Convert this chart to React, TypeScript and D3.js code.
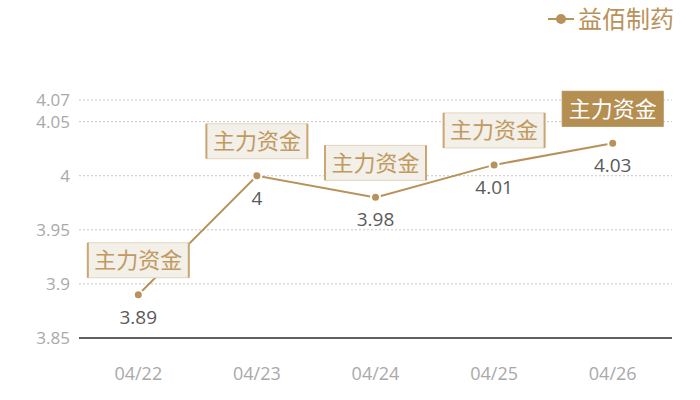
import * as d3 from 'd3';

const dates = ['04/22', '04/23', '04/24', '04/25', '04/26'];
const prices = [3.89, 4, 3.98, 4.01, 4.03];
const flowLabels = ['主力资金', '主力资金', '主力资金', '主力资金', '主力资金'];
const highlighted = [false, false, false, false, true];
const yTicks = [3.85, 3.9, 3.95, 4, 4.05, 4.07];
const seriesName = '益佰制药';

const W = 700;
const H = 400;
const margin = { top: 100, right: 28, bottom: 62, left: 79 };
const gold = '#b8925a';
const cjk = '"Noto Sans CJK SC", sans-serif';
const latin = '"Open Sans", "Noto Sans", sans-serif';

export default function App() {
  const x = d3
    .scaleBand()
    .domain(dates)
    .range([margin.left, W - margin.right]);
  const y = d3
    .scaleLinear()
    .domain([3.85, 4.07])
    .range([H - margin.bottom, margin.top]);
  const cx = (d: string) => (x(d) || 0) + x.bandwidth() / 2;

  const line = d3
    .line<number>()
    .x((_, i) => cx(dates[i]))
    .y(d => y(d));

  const boxW = 101;
  const boxH = 35;

  return (
    <svg
      width={W}
      height={H}
      style={{ position: 'absolute', left: 0, top: 0, background: '#fff' }}
      fontFamily={cjk}
    >
      {/* legend */}
      <g>
        <line x1={548} x2={574} y1={19} y2={19} stroke={gold} strokeWidth={2} />
        <circle cx={561} cy={19} r={5} fill={gold} />
        <text x={578} y={28} fontSize={24} fill={gold}>
          {seriesName}
        </text>
      </g>

      {/* grid + y ticks */}
      {yTicks.map(t => (
        <g key={t}>
          {t !== 3.85 && (
            <line
              x1={margin.left}
              x2={W - margin.right}
              y1={y(t)}
              y2={y(t)}
              stroke="#c8c8c8"
              strokeDasharray="2,2"
            />
          )}
          <text
            x={70}
            y={y(t)}
            dy="0.36em"
            textAnchor="end"
            fontSize={17}
            fontFamily={latin}
            fill="#a9a9a9"
          >
            {String(t)}
          </text>
        </g>
      ))}
      <line
        x1={margin.left}
        x2={W - margin.right}
        y1={y(3.85)}
        y2={y(3.85)}
        stroke="#2b2b2b"
        strokeWidth={1.3}
      />

      {/* x ticks */}
      {dates.map(d => (
        <text
          key={d}
          x={cx(d)}
          y={H - margin.bottom + 42}
          textAnchor="middle"
          fontSize={18}
          fontFamily={latin}
          fill="#a9a9a9"
        >
          {d}
        </text>
      ))}

      {/* series */}
      <path d={line(prices) || ''} fill="none" stroke={gold} strokeWidth={2} />
      {prices.map((v, i) => (
        <circle
          key={i}
          cx={cx(dates[i])}
          cy={y(v)}
          r={4.5}
          fill={gold}
          stroke="#fff"
          strokeWidth={2}
        />
      ))}
      {prices.map((v, i) => (
        <text
          key={i}
          x={cx(dates[i])}
          y={y(v) + 29}
          textAnchor="middle"
          fontSize={19}
          fontFamily={latin}
          fill="#5a5a5a"
        >
          {String(v)}
        </text>
      ))}

      {/* flow labels */}
      {flowLabels.map((lab, i) => {
        const px = cx(dates[i]);
        const bx = px - boxW / 2;
        const by = y(prices[i]) - 17 - boxH;
        const hi = highlighted[i];
        return (
          <g key={i}>
            <rect
              x={bx}
              y={by}
              width={boxW}
              height={boxH}
              fill={hi ? '#b58e52' : '#f3efe9'}
              stroke={hi ? '#b58e52' : '#e3d5bf'}
              strokeWidth={1}
            />
            {!hi && (
              <>
                <line x1={bx} x2={bx} y1={by} y2={by + boxH} stroke="#c9a672" strokeWidth={2} />
                <line
                  x1={bx + boxW}
                  x2={bx + boxW}
                  y1={by}
                  y2={by + boxH}
                  stroke="#c9a672"
                  strokeWidth={2}
                />
              </>
            )}
            <text
              x={px}
              y={by + boxH / 2}
              dy="0.36em"
              textAnchor="middle"
              fontSize={22}
              fill={hi ? '#fff' : '#c19a60'}
            >
              {lab}
            </text>
          </g>
        );
      })}
    </svg>
  );
}
